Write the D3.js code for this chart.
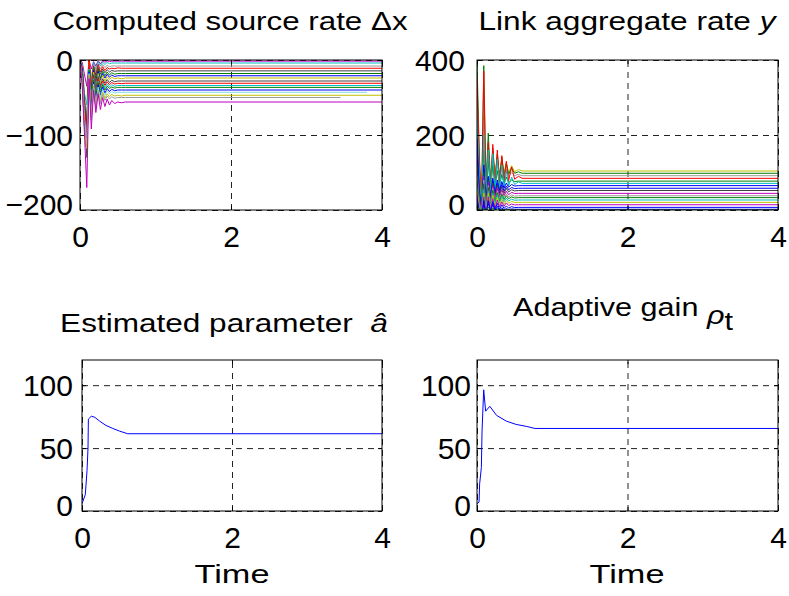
<!DOCTYPE html>
<html>
<head>
<meta charset="utf-8">
<script src="https://cdn.jsdelivr.net/npm/d3@7"></script>
<style>
  body { margin: 0; background: #fff; }
  svg { display: block; font-family: 'Liberation Sans', Arial, sans-serif; }
</style>
</head>
<body>
<svg id="fig" width="789" height="596"></svg>
<script>
// MATLAB-ish colour order used by the plots
const clr = {
  b: '#0000ff', g: '#008000', r: '#ff0000', c: '#00bfbf', m: '#bf00bf',
  y: '#bfbf00', k: '#404040', gr: '#9a9a9a', lc: '#80dcdc'
};

// shared sample times of the transient part (seconds)
const stepTimes = [0, 0.03, 0.06, 0.09, 0.12, 0.15, 0.18, 0.21, 0.24, 0.27, 0.3, 0.33, 0.36, 0.39, 0.42, 0.46, 0.5, 0.55, 0.6];

// Computed source rate (delta x), one row per source
const sourceRates = [
  [0, -3, -20, -35, 0, -12, -2, -8, -1, -5, -1, -3, -1, -2, -1.5, -1.5, -1.5, -1.5, -1.5],
  [0, -6, -45, -60, -2, -25, -3, -12, -2, -8, -3, -6, -3, -5, -4, -4, -4, -4, -4],
  [-2, -8, -50, -75, -5, -30, -6, -15, -5, -12, -6, -10, -7, -9, -8, -8, -8, -8, -8],
  [0, -10, -60, -90, 2, -35, -8, -20, -6, -16, -9, -14, -10, -12, -11, -11.5, -10.5, -11, -11],
  [-1, -12, -55, -85, -4, -40, -10, -24, -10, -19, -12, -17, -13, -16, -14, -15, -14.5, -14.5, -14.5],
  [0, -14, -70, -130, -6, -50, -12, -30, -12, -24, -15, -21, -16, -20, -17, -19, -18, -18, -18],
  [0, -15, -75, -110, -8, -55, -14, -33, -15, -27, -18, -24, -19, -23, -20, -22, -21, -21, -21],
  [-2, -18, -80, -115, -3, -58, -16, -37, -18, -30, -20, -28, -22, -26, -23, -25, -24, -25, -24],
  [0, -20, -72, -100, -10, -60, -20, -40, -22, -34, -25, -31, -26, -30, -27, -29, -28, -28, -28],
  [0, -22, -65, -95, 0, -62, -22, -44, -25, -37, -28, -34, -29, -33, -30, -32, -31, -31.5, -31],
  [-1, -24, -80, -120, -12, -65, -25, -47, -28, -40, -31, -37, -32, -36, -33, -35, -34, -34, -34],
  [0, -25, -85, -125, -14, -68, -27, -50, -30, -43, -33, -40, -35, -38, -36, -37.5, -36.5, -36.5, -36.5],
  [0, -27, -90, -108, -16, -72, -30, -54, -33, -47, -36, -44, -38, -42, -39, -41, -40, -40, -40],
  [-2, -28, -78, -112, -18, -74, -32, -57, -36, -50, -39, -47, -41, -45, -42, -44, -43, -43, -43],
  [0, -30, -95, -118, -20, -78, -35, -62, -40, -55, -43, -51, -45, -49, -46, -48, -47, -48, -47],
  [-1, -32, -88, -105, -22, -80, -38, -65, -42, -58, -46, -54, -48, -52, -49, -51, -50, -50, -50],
  [0, -35, -100, -170, -25, -92, -40, -70, -45, -66, -50, -62, -52, -60, -54, -58, -56, -57, -56]
];
const sourceColors = ['m', 'c', 'gr', 'r', 'k', 'g', 'b', 'y', 'k', 'r', 'c', 'g', 'b', 'lc', 'y', 'gr', 'm'];
const sourceEnds = [4, 4, 4, 4, 4, 4, 4, 4, 4, 4, 4, 4, 4, 3.8, 4, 3.45, 4];

// Link aggregate rate y, one row per link
const linkRates = [
  [300, 120, 20, 250, 60, 160, 80, 150, 90, 140, 95, 135, 100, 125, 100, 118, 102, 108, 104],
  [400, 150, 10, 385, 70, 205, 75, 165, 85, 150, 88, 140, 92, 125, 95, 112, 98, 102, 98],
  [280, 110, 5, 240, 50, 150, 70, 140, 80, 130, 85, 120, 88, 110, 90, 100, 92, 95, 91.5],
  [350, 140, 0, 370, 40, 180, 55, 175, 65, 160, 70, 145, 75, 130, 78, 115, 82, 90, 84.4],
  [200, 90, 0, 160, 40, 130, 50, 120, 60, 105, 65, 95, 70, 88, 73, 80, 76, 77, 77],
  [240, 100, 0, 200, 30, 160, 45, 150, 50, 135, 55, 120, 60, 105, 64, 88, 68, 75, 71],
  [190, 60, -10, 120, 20, 90, 35, 85, 45, 80, 52, 76, 58, 72, 61, 68, 64, 65, 65],
  [150, 50, -20, 110, 10, 85, 30, 78, 40, 72, 45, 68, 50, 64, 54, 60, 57, 58, 58],
  [120, 40, -5, 100, 15, 80, 25, 72, 35, 66, 40, 62, 44, 58, 48, 54, 51, 52, 52],
  [100, 30, -15, 90, 5, 75, 20, 65, 28, 58, 34, 54, 38, 50, 41, 47, 44, 44.4, 44.4],
  [90, 20, -10, 80, 0, 65, 15, 58, 24, 50, 30, 46, 33, 43, 35, 40, 37, 38, 38],
  [80, 15, -20, 70, -5, 60, 10, 52, 18, 46, 24, 42, 28, 38, 30, 35, 32, 33, 33],
  [60, 10, -15, 55, -5, 50, 8, 45, 14, 40, 18, 36, 22, 32, 24, 29, 26, 26.7, 26.7],
  [50, 5, -20, 45, -10, 45, 2, 40, 8, 34, 12, 30, 15, 26, 18, 23, 20, 20.4, 20.4],
  [40, 0, -20, 35, -10, 35, 0, 30, 4, 26, 8, 22, 10, 19, 12, 16, 13.5, 14, 14],
  [30, -5, -25, 25, -15, 25, -5, 22, 0, 18, 2, 14, 4, 11, 5, 9, 6.5, 7, 7],
  [20, -5, -20, 15, -10, 18, -5, 15, -3, 10, -1, 6, 0, 4, 1, 3, 2, 2, 2],
  [10, 0, -10, 5, -5, 8, -3, 6, -2, 4, -1, 2, 0, 1, 0, 0.5, 0, 0, 0]
];
const linkColors = ['y', 'g', 'gr', 'r', 'g', 'c', 'b', 'b', 'k', 'm', 'gr', 'g', 'c', 'y', 'm', 'b', 'b', 'g'];
const linkEnds = [4, 4, 4, 4, 4, 4, 4, 4, 4, 4, 4, 4, 4, 4, 4, 4, 4, 4];

// Estimated parameter a-hat
const estTimes = [0, 0.044, 0.067, 0.08, 0.085, 0.124, 0.17, 0.235, 0.32, 0.41, 0.5, 0.61, 4];
const estValues = [5.8, 13, 32, 50, 73, 75.3, 74.5, 71.4, 68, 65.6, 63.5, 61.4, 61.4];

// Adaptive gain rho_t
const gainTimes = [0, 0.027, 0.035, 0.058, 0.067, 0.089, 0.115, 0.17, 0.26, 0.39, 0.52, 0.66, 0.77, 4];
const gainValues = [5.8, 7, 21.5, 34.6, 63.5, 96.3, 79.3, 83.2, 76, 71.4, 68.8, 67.2, 65.6, 65.6];

const xTicks = [0, 2, 4];

// turn a transient row into [t, v] points, holding the last value to the end time
function toSeries(rows, colors, ends) {
  return rows.map((row, i) => {
    let pts = stepTimes.map((t, j) => [t, row[j]]);
    pts.push([ends[i], row[row.length - 1]]);
    return { points: pts, color: clr[colors[i]] };
  });
}

const svg = d3.select('#fig');

class LinePanel {

  constructor(_config, series) {
    this.config = {
      id: _config.id,
      left: _config.left,
      top: _config.top,
      width: _config.width,
      height: _config.height,
      yDomain: _config.yDomain,
      yTicks: _config.yTicks,
      labelGap: _config.labelGap || 7
    };
    this.series = series;
    this.initVis();
  }

  initVis() {
    let vis = this;
    let cfg = vis.config;

    vis.xScale = d3.scaleLinear().domain([0, 4]).range([0, cfg.width]);
    vis.yScale = d3.scaleLinear().domain(cfg.yDomain).range([cfg.height, 0]);

    vis.chart = svg.append('g')
        .attr('transform', `translate(${cfg.left},${cfg.top})`);

    vis.chart.append('clipPath')
        .attr('id', 'clip-' + cfg.id)
      .append('rect')
        .attr('width', cfg.width)
        .attr('height', cfg.height);

    // dashed grid
    let gx = vis.chart.append('g')
        .attr('transform', `translate(0,${cfg.height})`)
        .call(d3.axisBottom(vis.xScale).tickValues(xTicks).tickSize(-cfg.height).tickFormat(''));
    let gy = vis.chart.append('g')
        .call(d3.axisLeft(vis.yScale).tickValues(cfg.yTicks).tickSize(-cfg.width).tickFormat(''));
    [gx, gy].forEach(g => {
      g.select('.domain').remove();
      g.selectAll('.tick line')
          .attr('stroke', '#222')
          .attr('stroke-dasharray', '6,5');
    });

    vis.renderVis();
  }

  renderVis() {
    let vis = this;
    let cfg = vis.config;

    let line = d3.line()
        .x(d => vis.xScale(d[0]))
        .y(d => vis.yScale(d[1]));

    vis.chart.append('g')
        .attr('clip-path', `url(#clip-${cfg.id})`)
      .selectAll('path')
      .data(vis.series)
      .join('path')
        .attr('fill', 'none')
        .attr('stroke', d => d.color)
        .attr('stroke-width', 1)
        .attr('d', d => line(d.points));

    // axes, ticks pointing inward like matlab
    let xAxisG = vis.chart.append('g')
        .attr('transform', `translate(0,${cfg.height})`)
        .call(d3.axisBottom(vis.xScale).tickValues(xTicks).tickFormat(d3.format('d'))
          .tickSizeInner(-4).tickSizeOuter(0).tickPadding(16));
    let yAxisG = vis.chart.append('g')
        .call(d3.axisLeft(vis.yScale).tickValues(cfg.yTicks).tickFormat(d3.format('d'))
          .tickSizeInner(-4).tickSizeOuter(0).tickPadding(cfg.labelGap));
    let topG = vis.chart.append('g')
        .call(d3.axisTop(vis.xScale).tickValues(xTicks).tickSizeInner(-4).tickSizeOuter(0).tickFormat(''));
    let rightG = vis.chart.append('g')
        .attr('transform', `translate(${cfg.width},0)`)
        .call(d3.axisRight(vis.yScale).tickValues(cfg.yTicks).tickSizeInner(-4).tickSizeOuter(0).tickFormat(''));

    [xAxisG, yAxisG, topG, rightG].forEach(g => {
      g.attr('font-size', null).attr('font-family', null);
      g.select('.domain').remove();
      g.selectAll('.tick line').attr('stroke', '#000');
      g.selectAll('text')
          .style('font-size', '30px')
          .attr('fill', '#000');
    });

    // matlab lifts the lowest y label a little
    yAxisG.selectAll('text')
        .attr('dy', d => d === cfg.yDomain[0] ? '0.14em' : '0.36em');

    vis.chart.append('rect')
        .attr('width', cfg.width)
        .attr('height', cfg.height)
        .attr('fill', 'none')
        .attr('stroke', '#000')
        .attr('stroke-width', 1);
  }
}

new LinePanel({ id: 'src', left: 80, top: 60, width: 302, height: 150, yDomain: [-200, 0], yTicks: [-200, -100, 0] },
  toSeries(sourceRates, sourceColors, sourceEnds));
new LinePanel({ id: 'link', left: 477, top: 60, width: 301, height: 150, yDomain: [0, 400], yTicks: [0, 200, 400], labelGap: 12 },
  toSeries(linkRates, linkColors, linkEnds));
new LinePanel({ id: 'est', left: 82, top: 360, width: 300, height: 151, yDomain: [0, 120], yTicks: [0, 50, 100], labelGap: 9 },
  [{ points: estTimes.map((t, i) => [t, estValues[i]]), color: clr.b }]);
new LinePanel({ id: 'gain', left: 477, top: 360, width: 301, height: 151, yDomain: [0, 120], yTicks: [0, 50, 100], labelGap: 6 },
  [{ points: gainTimes.map((t, i) => [t, gainValues[i]]), color: clr.b }]);

// titles and labels: the original text is drawn wider than normal, so stretch to fit
function stretchedText(cx, baseline, targetWidth, build) {
  let g = svg.append('g');
  let t = g.append('text')
      .attr('text-anchor', 'middle')
      .style('font-size', '25px')
      .attr('fill', '#000');
  build(t);
  let w = t.node().getBBox().width;
  g.attr('transform', `translate(${cx},${baseline}) scale(${targetWidth / w},1)`);
}

stretchedText(230, 30, 356, t => {
  t.append('tspan').text('Computed source rate ');
  t.append('tspan').text('Δ');
  t.append('tspan').text('x');
});
stretchedText(627, 30, 299, t => {
  t.append('tspan').text('Link aggregate rate ');
  t.append('tspan').style('font-style', 'italic').text('y');
});
stretchedText(224, 332, 328, t => {
  t.append('tspan').text('Estimated parameter\u00a0\u00a0');
  t.append('tspan').style('font-style', 'italic').text('â');
});
stretchedText(623, 316, 220, t => {
  t.append('tspan').text('Adaptive gain ');
  t.append('tspan').attr('dy', 8).style('font-style', 'italic').text('ρ');
  t.append('tspan').attr('dy', 6).text('t');
});
stretchedText(232, 583, 75, t => t.text('Time'));
stretchedText(627, 583, 75, t => t.text('Time'));
</script>
</body>
</html>
